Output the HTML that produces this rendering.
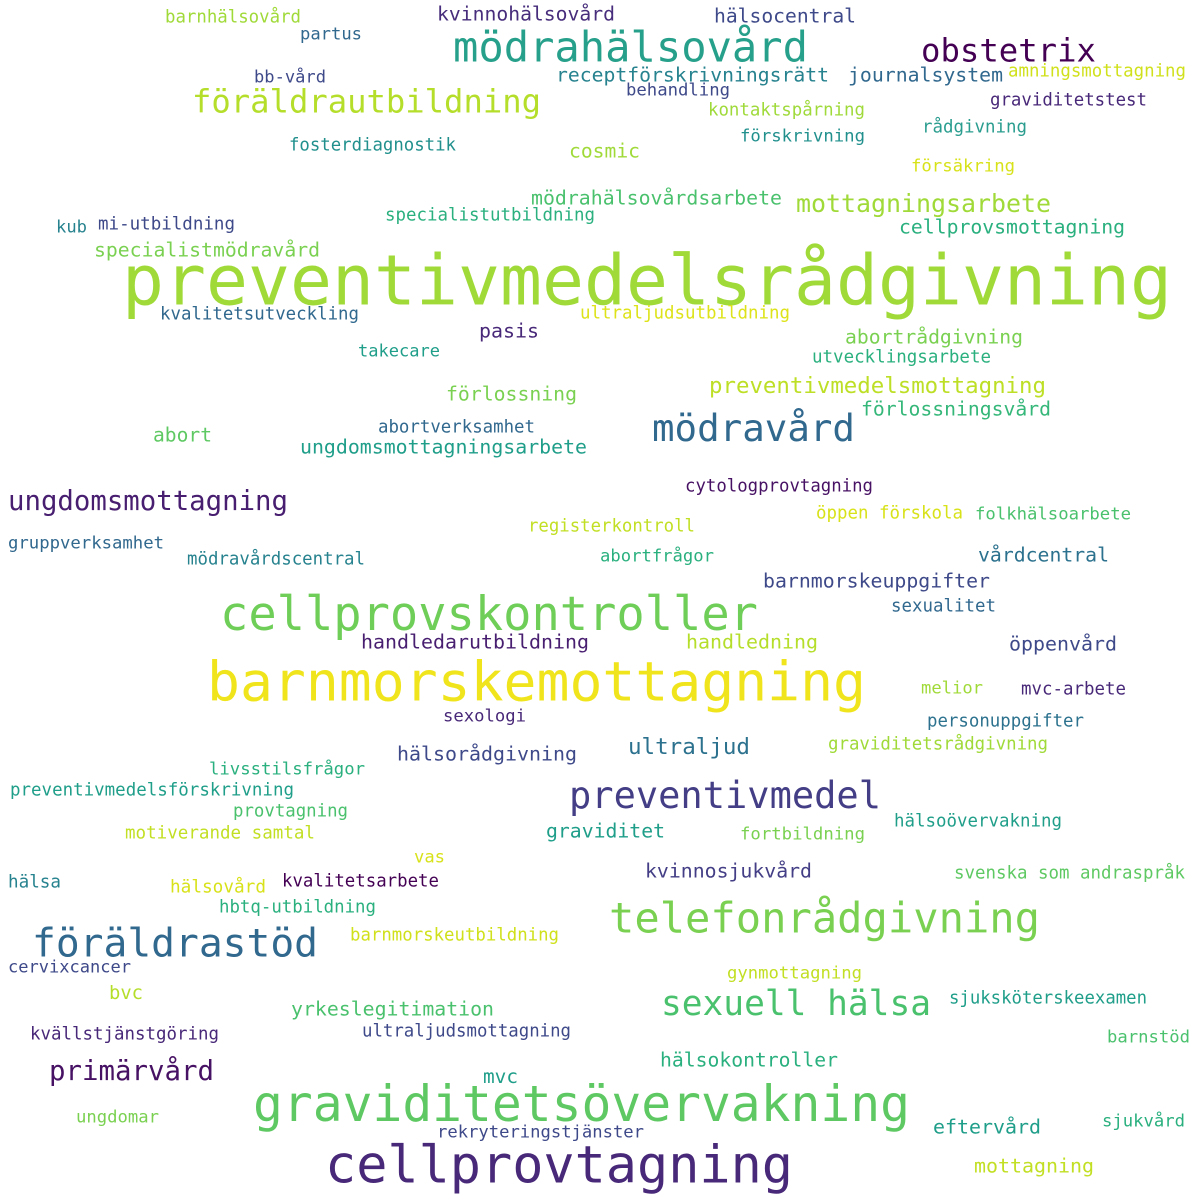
<!DOCTYPE html>
<html><head><meta charset="utf-8"><style>
html,body{margin:0;padding:0;background:#fff;}
svg{display:block;}
text{font-family:"DejaVu Sans Mono","Liberation Mono",monospace;}
</style></head>
<body>
<svg id="cloud" width="1200" height="1200" viewBox="0 0 1200 1200"></svg>
<script>
const words=["barnhälsovård","partus","kvinnohälsovård","hälsocentral","mödrahälsovård","obstetrix","bb-vård","receptförskrivningsrätt","journalsystem","amningsmottagning","behandling","föräldrautbildning","graviditetstest","kontaktspårning","rådgivning","förskrivning","fosterdiagnostik","cosmic","försäkring","mödrahälsovårdsarbete","mottagningsarbete","specialistutbildning","kub","mi-utbildning","cellprovsmottagning","specialistmödravård","preventivmedelsrådgivning","kvalitetsutveckling","ultraljudsutbildning","pasis","abortrådgivning","takecare","utvecklingsarbete","förlossning","preventivmedelsmottagning","förlossningsvård","abort","abortverksamhet","mödravård","ungdomsmottagningsarbete","ungdomsmottagning","cytologprovtagning","öppen förskola","folkhälsoarbete","registerkontroll","gruppverksamhet","mödravårdscentral","abortfrågor","vårdcentral","barnmorskeuppgifter","cellprovskontroller","sexualitet","handledarutbildning","handledning","öppenvård","barnmorskemottagning","melior","mvc-arbete","sexologi","personuppgifter","ultraljud","hälsorådgivning","graviditetsrådgivning","livsstilsfrågor","preventivmedelsförskrivning","preventivmedel","provtagning","motiverande samtal","graviditet","fortbildning","hälsoövervakning","vas","kvinnosjukvård","hälsa","hälsovård","kvalitetsarbete","svenska som andraspråk","hbtq-utbildning","telefonrådgivning","föräldrastöd","barnmorskeutbildning","cervixcancer","gynmottagning","bvc","sexuell hälsa","sjuksköterskeexamen","yrkeslegitimation","kvällstjänstgöring","ultraljudsmottagning","barnstöd","primärvård","hälsokontroller","mvc","graviditetsövervakning","ungdomar","sjukvård","eftervård","rekryteringstjänster","cellprovtagning","mottagning"];
// layout: [left, right, centerY]
const layout=[[165,301,16],[300,362,33],[437,615,13],[714,856,15],[453,808,47],[921,1096,50],[254,326,76],[556,829,74],[848,1003,74],[1008,1186,70],[626,730,89],[192,541,101],[990,1147,99],[708,865,109],[922,1027,126],[740,865,135],[289,456,144],[569,640,150],[911,1015,165],[531,782,197],[796,1051,203],[385,595,214],[56,87,226],[98,235,223],[899,1125,226],[94,320,249],[122,1172,281],[160,359,313],[580,790,312],[479,539,330],[845,1023,336],[358,440,350],[812,991,356],[446,577,393],[709,1046,385],[861,1051,408],[153,212,434],[378,535,426],[652,855,428],[300,587,446],[8,288,500],[685,873,485],[816,963,512],[975,1131,513],[528,695,525],[8,164,542],[187,365,558],[600,714,555],[978,1109,554],[763,990,580],[220,758,614],[891,996,605],[361,589,641],[686,818,641],[1009,1117,643],[207,866,682],[921,983,687],[1021,1126,688],[443,526,715],[927,1084,720],[628,750,746],[397,577,753],[828,1048,743],[209,365,768],[10,294,789],[569,881,795],[233,348,810],[125,315,832],[546,665,830],[740,865,833],[894,1062,820],[414,445,856],[645,812,870],[8,61,881],[170,266,886],[282,439,880],[954,1185,872],[219,376,906],[609,1040,918],[32,318,943],[350,559,934],[8,131,966],[727,862,972],[109,143,992],[661,931,1003],[949,1147,997],[291,494,1008],[30,219,1033],[362,571,1030],[1107,1190,1036],[49,214,1070],[660,838,1059],[483,518,1076],[253,910,1104],[76,159,1116],[1102,1185,1120],[933,1041,1126],[437,644,1131],[325,793,1165],[974,1094,1165]];
const colors=["#a0da39","#31688e","#472d7b","#3e4989","#26a08a","#440154","#3e4989","#26828e","#31688e","#d0e11c","#3e4989","#b5de2b","#482878","#9fda3a","#2a9d8f","#21908d","#21908d","#a0da39","#d8e219","#4ac16d","#a0da39","#2ab07f","#26828e","#3e4989","#2ab07f","#7ad151","#a0da39","#31688e","#dde318","#482878","#7ad151","#1f9e89","#2ab07f","#7ad151","#bddf26","#35b779","#5ec962","#31688e","#31688e","#1f9e89","#481f70","#471164","#d8e219","#4ac16d","#c2df23","#31688e","#26828e","#2ab07f","#2c728e","#3e4989","#6ece58","#31688e","#481f70","#b5de2b","#3e4989","#f0e51c","#a0da39","#482878","#482878","#2c728e","#2c728e","#3e4989","#a0da39","#2ab07f","#1f9e89","#433e85","#4ac16d","#c2df23","#1f9e89","#7ad151","#1f9e89","#d8e219","#433e85","#26828e","#d8e219","#440154","#5ec962","#2ab07f","#7ad151","#31688e","#d0e11c","#3e4989","#c2df23","#b5de2b","#4ac16d","#1f9e89","#4ac16d","#482878","#3e4989","#4ac16d","#471164","#2ab07f","#1f9e89","#5ec962","#7ad151","#2ab07f","#1f9e89","#3e4989","#482878","#c2df23"];
const svg=document.getElementById('cloud');
const NS='http://www.w3.org/2000/svg';
words.forEach((w,i)=>{
  const [l,r,cy]=layout[i];
  const width=r-l;
  const fs=width/(w.length*0.602);
  const t=document.createElementNS(NS,'text');
  t.setAttribute('x',l);
  t.setAttribute('y',(cy+0.32*fs+1).toFixed(1));
  t.setAttribute('font-size',fs.toFixed(2));
  t.setAttribute('fill',colors[i]);
  t.setAttribute('textLength',width);
  t.setAttribute('lengthAdjust','spacingAndGlyphs');
  
  
  t.textContent=w;
  svg.appendChild(t);
});
</script>
</body></html>
